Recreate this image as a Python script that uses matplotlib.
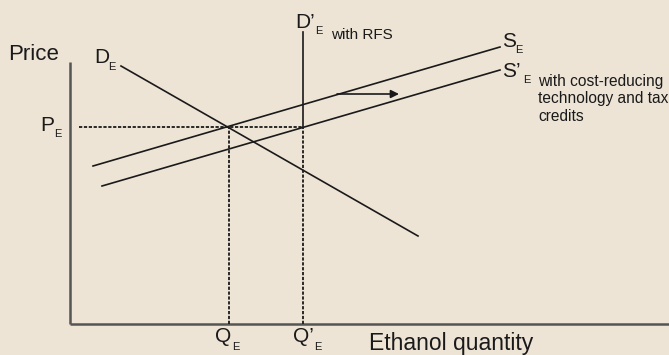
import matplotlib.pyplot as plt

plt.rcParams['font.family'] = ['Liberation Sans', 'DejaVu Sans']

# equilibrium values (arbitrary units)
q_e = 15.9
q_e_rfs = 23.3
p_e = 19.7

# curve endpoints (quantity, price)
demand_q = [5.1, 34.8]
demand_p = [25.8, 8.8]
supply_q = [2.3, 43.0]
supply_p = [15.8, 27.7]
supply2_q = [3.2, 43.0]
supply2_p = [13.8, 25.4]
rfs_top = 29.2

# axis extents and shift arrow
q_max = 59.9
p_max = 26.2
shift_q = [26.7, 32.9]
shift_p = 23.0

bg = '#ede4d6'
ink = '#1a1a1a'

fig = plt.figure(figsize=(6.69, 3.55), dpi=100, facecolor=bg)
ax = fig.add_axes([0, 0, 1, 1])
ax.set_facecolor(bg)
ax.set_xlim(-7.0, 59.9)
ax.set_ylim(-3.1, 32.4)
ax.axis('off')

# axes
ax.plot([0, 0], [0, p_max], color='#555555', lw=1.8, solid_capstyle='butt')
ax.plot([0, q_max], [0, 0], color='#555555', lw=1.8, solid_capstyle='butt')

# curves
ax.plot(demand_q, demand_p, color=ink, lw=1.2)
ax.plot(supply_q, supply_p, color=ink, lw=1.2)
ax.plot(supply2_q, supply2_p, color=ink, lw=1.2)
ax.plot([q_e_rfs, q_e_rfs], [p_e, rfs_top], color=ink, lw=1.2)

# dashed guides
dash = dict(color=ink, lw=1.3, linestyle=(0, (1.8, 0.9)))
ax.plot([0.9, q_e_rfs], [p_e, p_e], **dash)
ax.plot([q_e, q_e], [0, p_e], **dash)
ax.plot([q_e_rfs, q_e_rfs], [0, p_e], **dash)

# shift arrow
ax.annotate('', xy=(shift_q[1], shift_p), xytext=(shift_q[0], shift_p),
            arrowprops=dict(arrowstyle='-|>', color=ink, lw=1.2,
                            mutation_scale=12, shrinkA=0, shrinkB=0))

big = 15
small = 8
ax.text(-6.2, 26.4, 'Price', fontsize=16, va='baseline', color=ink)
ax.text(2.4, 26.1, 'D', fontsize=big, va='baseline', color=ink)
ax.text(3.8, 25.4, 'E', fontsize=small, va='baseline', color=ink)
ax.text(22.5, 29.6, 'D\u2019', fontsize=big, va='baseline', color=ink)
ax.text(24.5, 29.0, 'E', fontsize=small, va='baseline', color=ink)
ax.text(26.1, 28.5, 'with RFS', fontsize=11, va='baseline', color=ink)
ax.text(43.2, 27.7, 'S', fontsize=big, va='baseline', color=ink)
ax.text(44.5, 27.1, 'E', fontsize=small, va='baseline', color=ink)
ax.text(43.2, 24.7, 'S\u2019', fontsize=big, va='baseline', color=ink)
ax.text(45.3, 24.1, 'E', fontsize=small, va='baseline', color=ink)
ax.text(46.8, 25.0, 'with cost-reducing\ntechnology and tax\ncredits',
        fontsize=11.2, va='top', linespacing=1.2, color=ink)
ax.text(-3.0, 19.3, 'P', fontsize=big, va='baseline', color=ink)
ax.text(-1.6, 18.7, 'E', fontsize=small, va='baseline', color=ink)
ax.text(14.5, -1.8, 'Q', fontsize=big, va='baseline', color=ink)
ax.text(16.2, -2.6, 'E', fontsize=small, va='baseline', color=ink)
ax.text(22.3, -1.8, 'Q\u2019', fontsize=big, va='baseline', color=ink)
ax.text(24.4, -2.6, 'E', fontsize=small, va='baseline', color=ink)
ax.text(29.9, -2.6, 'Ethanol quantity', fontsize=16.5, va='baseline', color=ink)

fig.savefig('out.png', dpi=100, facecolor=bg)
